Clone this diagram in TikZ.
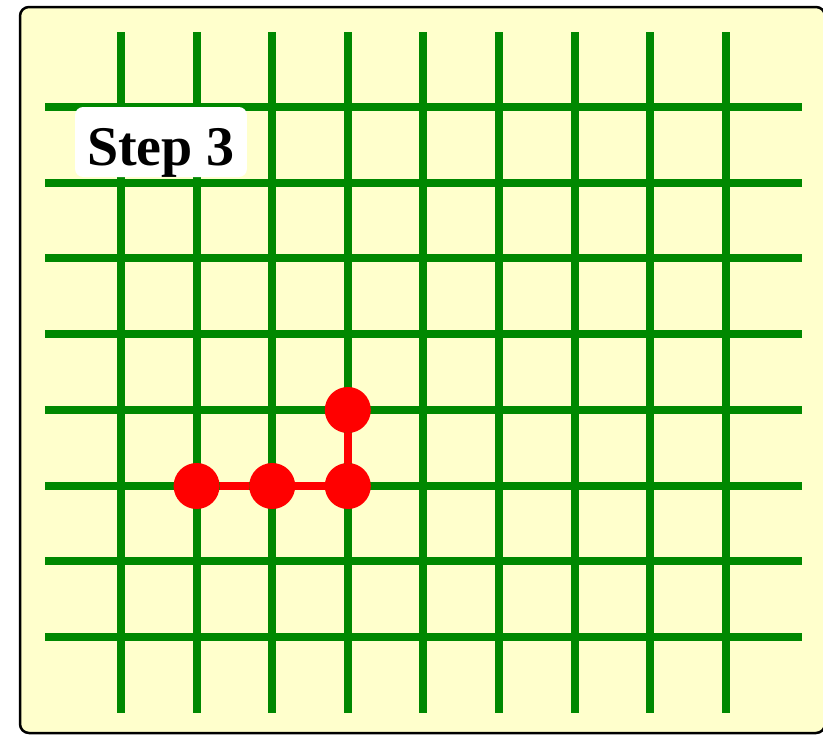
\documentclass[tikz,border=0pt]{standalone}
\usepackage{fontspec}
\setmainfont{Liberation Serif}
\definecolor{paper}{HTML}{FFFFCC}
\definecolor{gridgreen}{HTML}{008800}
\definecolor{dotred}{HTML}{FF0000}
\tikzset{
  gridline/.style={draw=gridgreen, line width=8pt},
  walkdot/.style={circle, fill=dotred, minimum size=46pt, inner sep=0pt},
  walkedge/.style={draw=dotred, line width=8pt},
  steplabel/.style={fill=white, rounded corners=8pt, inner xsep=12pt, inner ysep=0pt,
    text height=58pt, text depth=12pt, font=\fontsize{56}{60}\selectfont\bfseries},
}
\begin{document}
\begin{tikzpicture}[x=1pt, y=-1pt]
\useasboundingbox (0,0) rectangle (823,736);
\begin{scope}
\clip (0,0) rectangle (823,736);
\draw[fill=paper, line width=2.5pt, rounded corners=9pt] (20,7) rectangle (825,733);
\end{scope}
% grid
\foreach \i in {0,...,8} {
  \draw[gridline] ({121+75.6*\i},32) -- ({121+75.6*\i},713);
}
\foreach \j in {0,...,7} {
  \draw[gridline] (45,{107+75.7*\j}) -- (802,{107+75.7*\j});
}
% label
\node[steplabel] (lab) at (161,142) {Step 3};
% walk
\node[walkdot] (d1) at (196.6,486) {};
\node[walkdot] (d2) at (272.2,486) {};
\node[walkdot] (d3) at (347.8,486) {};
\node[walkdot] (d4) at (347.8,410) {};
\draw[walkedge] (d1) -- (d2);
\draw[walkedge] (d2) -- (d3);
\draw[walkedge] (d3) -- (d4);
\end{tikzpicture}
\end{document}
